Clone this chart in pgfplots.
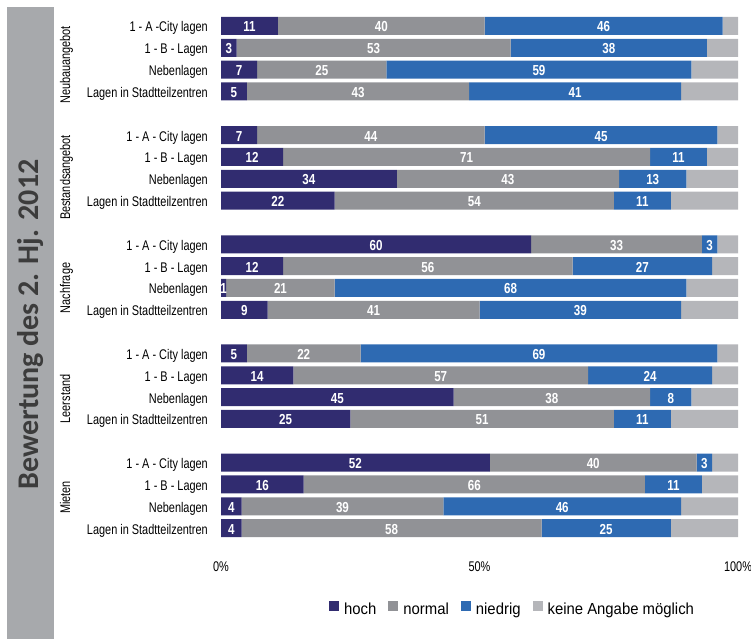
\documentclass[border=0pt]{standalone}
\usepackage{pgfplots}
\pgfplotsset{compat=1.18}
\usepackage{pgfplotstable}
\usepackage{fontspec}
\setmainfont{Liberation Sans}
\newfontfamily\narrow[FakeStretch=0.78]{Liberation Sans}
\newfontfamily\barfont[FakeStretch=0.8]{Liberation Sans}
\newfontfamily\legfont[FakeStretch=0.93]{Liberation Sans}
\newfontfamily\titlefont{Carlito}
\definecolor{hoch}{HTML}{312C70}
\definecolor{normal}{HTML}{919296}
\definecolor{niedrig}{HTML}{2E6AB2}
\definecolor{keine}{HTML}{B5B6BA}
\definecolor{sidebar}{HTML}{A7A9AC}
\definecolor{titlecol}{HTML}{3C3C3C}
\pgfplotstableread{
y hoch normal niedrig keine
0 11 40 46 3
1 3 53 38 6
2 7 25 59 9
3 5 43 41 11
5 7 44 45 4
6 12 71 11 6
7 34 43 13 10
8 22 54 11 13
10 60 33 3 4
11 12 56 27 5
12 1 21 68 10
13 9 41 39 11
15 5 22 69 4
16 14 57 24 5
17 45 38 8 9
18 25 51 11 13
20 52 40 3 5
21 16 66 11 7
22 4 39 46 11
23 4 58 25 13
}\data
\pgfplotsset{base/.style={
  at={(221pt,100pt)}, anchor=south west, scale only axis,
  width=517pt, height=524pt,
  xmin=0, xmax=100, ymin=-0.5, ymax=23.5, y dir=reverse,
  axis line style={draw=none}, tick style={draw=none}, clip=false,
}}
\begin{document}
\begin{tikzpicture}[x=1pt,y=1pt]
\fill[sidebar] (7,0) rectangle (54,632);
\node[rotate=90, anchor=base, text=titlecol, font=\titlefont\bfseries\fontsize{30}{36}\selectfont] at (38.5,314.5) {Bewertung des 2. Hj. 2012};
\begin{scope}[every node/.style={rotate=90, anchor=base, font=\narrow\fontsize{14}{16}\selectfont}]
\node at (70,574) {Neubauangebot};
\node at (70,461.5) {Bestandsangebot};
\node at (70,351) {Nachfrage};
\node at (70,240) {Leerstand};
\node at (70,141.5) {Mieten};
\end{scope}
\begin{axis}[base, xbar stacked, bar width=18pt,
  ytick={0,1,2,3,5,6,7,8,10,11,12,13,15,16,17,18,20,21,22,23},
  yticklabels={1 - A -City lagen, 1 - B - Lagen, Nebenlagen, Lagen in Stadtteilzentren,
    1 - A - City lagen, 1 - B - Lagen, Nebenlagen, Lagen in Stadtteilzentren,
    1 - A - City lagen, 1 - B - Lagen, Nebenlagen, Lagen in Stadtteilzentren,
    1 - A - City lagen, 1 - B - Lagen, Nebenlagen, Lagen in Stadtteilzentren,
    1 - A - City lagen, 1 - B - Lagen, Nebenlagen, Lagen in Stadtteilzentren},
  yticklabel style={anchor=base east, inner sep=0pt, xshift=-13pt, yshift=-6pt, font=\narrow\fontsize{14}{16}\selectfont},
  xtick={0,50,100}, xticklabels={0\%,50\%,100\%},
  xticklabel style={anchor=north, inner sep=0pt, yshift=-22.5pt, font=\narrow\fontsize{14}{16}\selectfont},
  legend image code/.code={\fill[#1] (0pt,-1pt) rectangle (10pt,9pt);},
  legend style={at={(0.564,-0.1345)}, anchor=center, legend columns=4, draw=none, fill=none,
    font=\legfont\fontsize{16}{18}\selectfont, inner sep=0pt,
    /tikz/every odd column/.append style={column sep=3pt},
    /tikz/every even column/.append style={column sep=10pt}},
  legend cell align=left,
]
\addplot[fill=hoch, draw=none] table[x=hoch, y=y]{\data};
\addplot[fill=normal, draw=none] table[x=normal, y=y]{\data};
\addplot[fill=niedrig, draw=none] table[x=niedrig, y=y]{\data};
\addplot[fill=keine, draw=none] table[x=keine, y=y]{\data};
\legend{hoch, normal, niedrig, keine Angabe möglich}
\end{axis}
\begin{axis}[base, hide axis,
  every node near coord/.append style={anchor=center, text=white, yshift=-1pt, font=\barfont\bfseries\fontsize{14.5}{16}\selectfont},
  nodes near coords, point meta=explicit symbolic]
\addplot[draw=none, mark=none] table[x expr=\thisrow{hoch}/2, y=y, meta=hoch]{\data};
\addplot[draw=none, mark=none] table[x expr=\thisrow{hoch}+\thisrow{normal}/2, y=y, meta=normal]{\data};
\addplot[draw=none, mark=none] table[x expr=\thisrow{hoch}+\thisrow{normal}+\thisrow{niedrig}/2, y=y, meta=niedrig]{\data};
\end{axis}
\pgfresetboundingbox
\path (0,0) rectangle (751,639);
\end{tikzpicture}
\end{document}
